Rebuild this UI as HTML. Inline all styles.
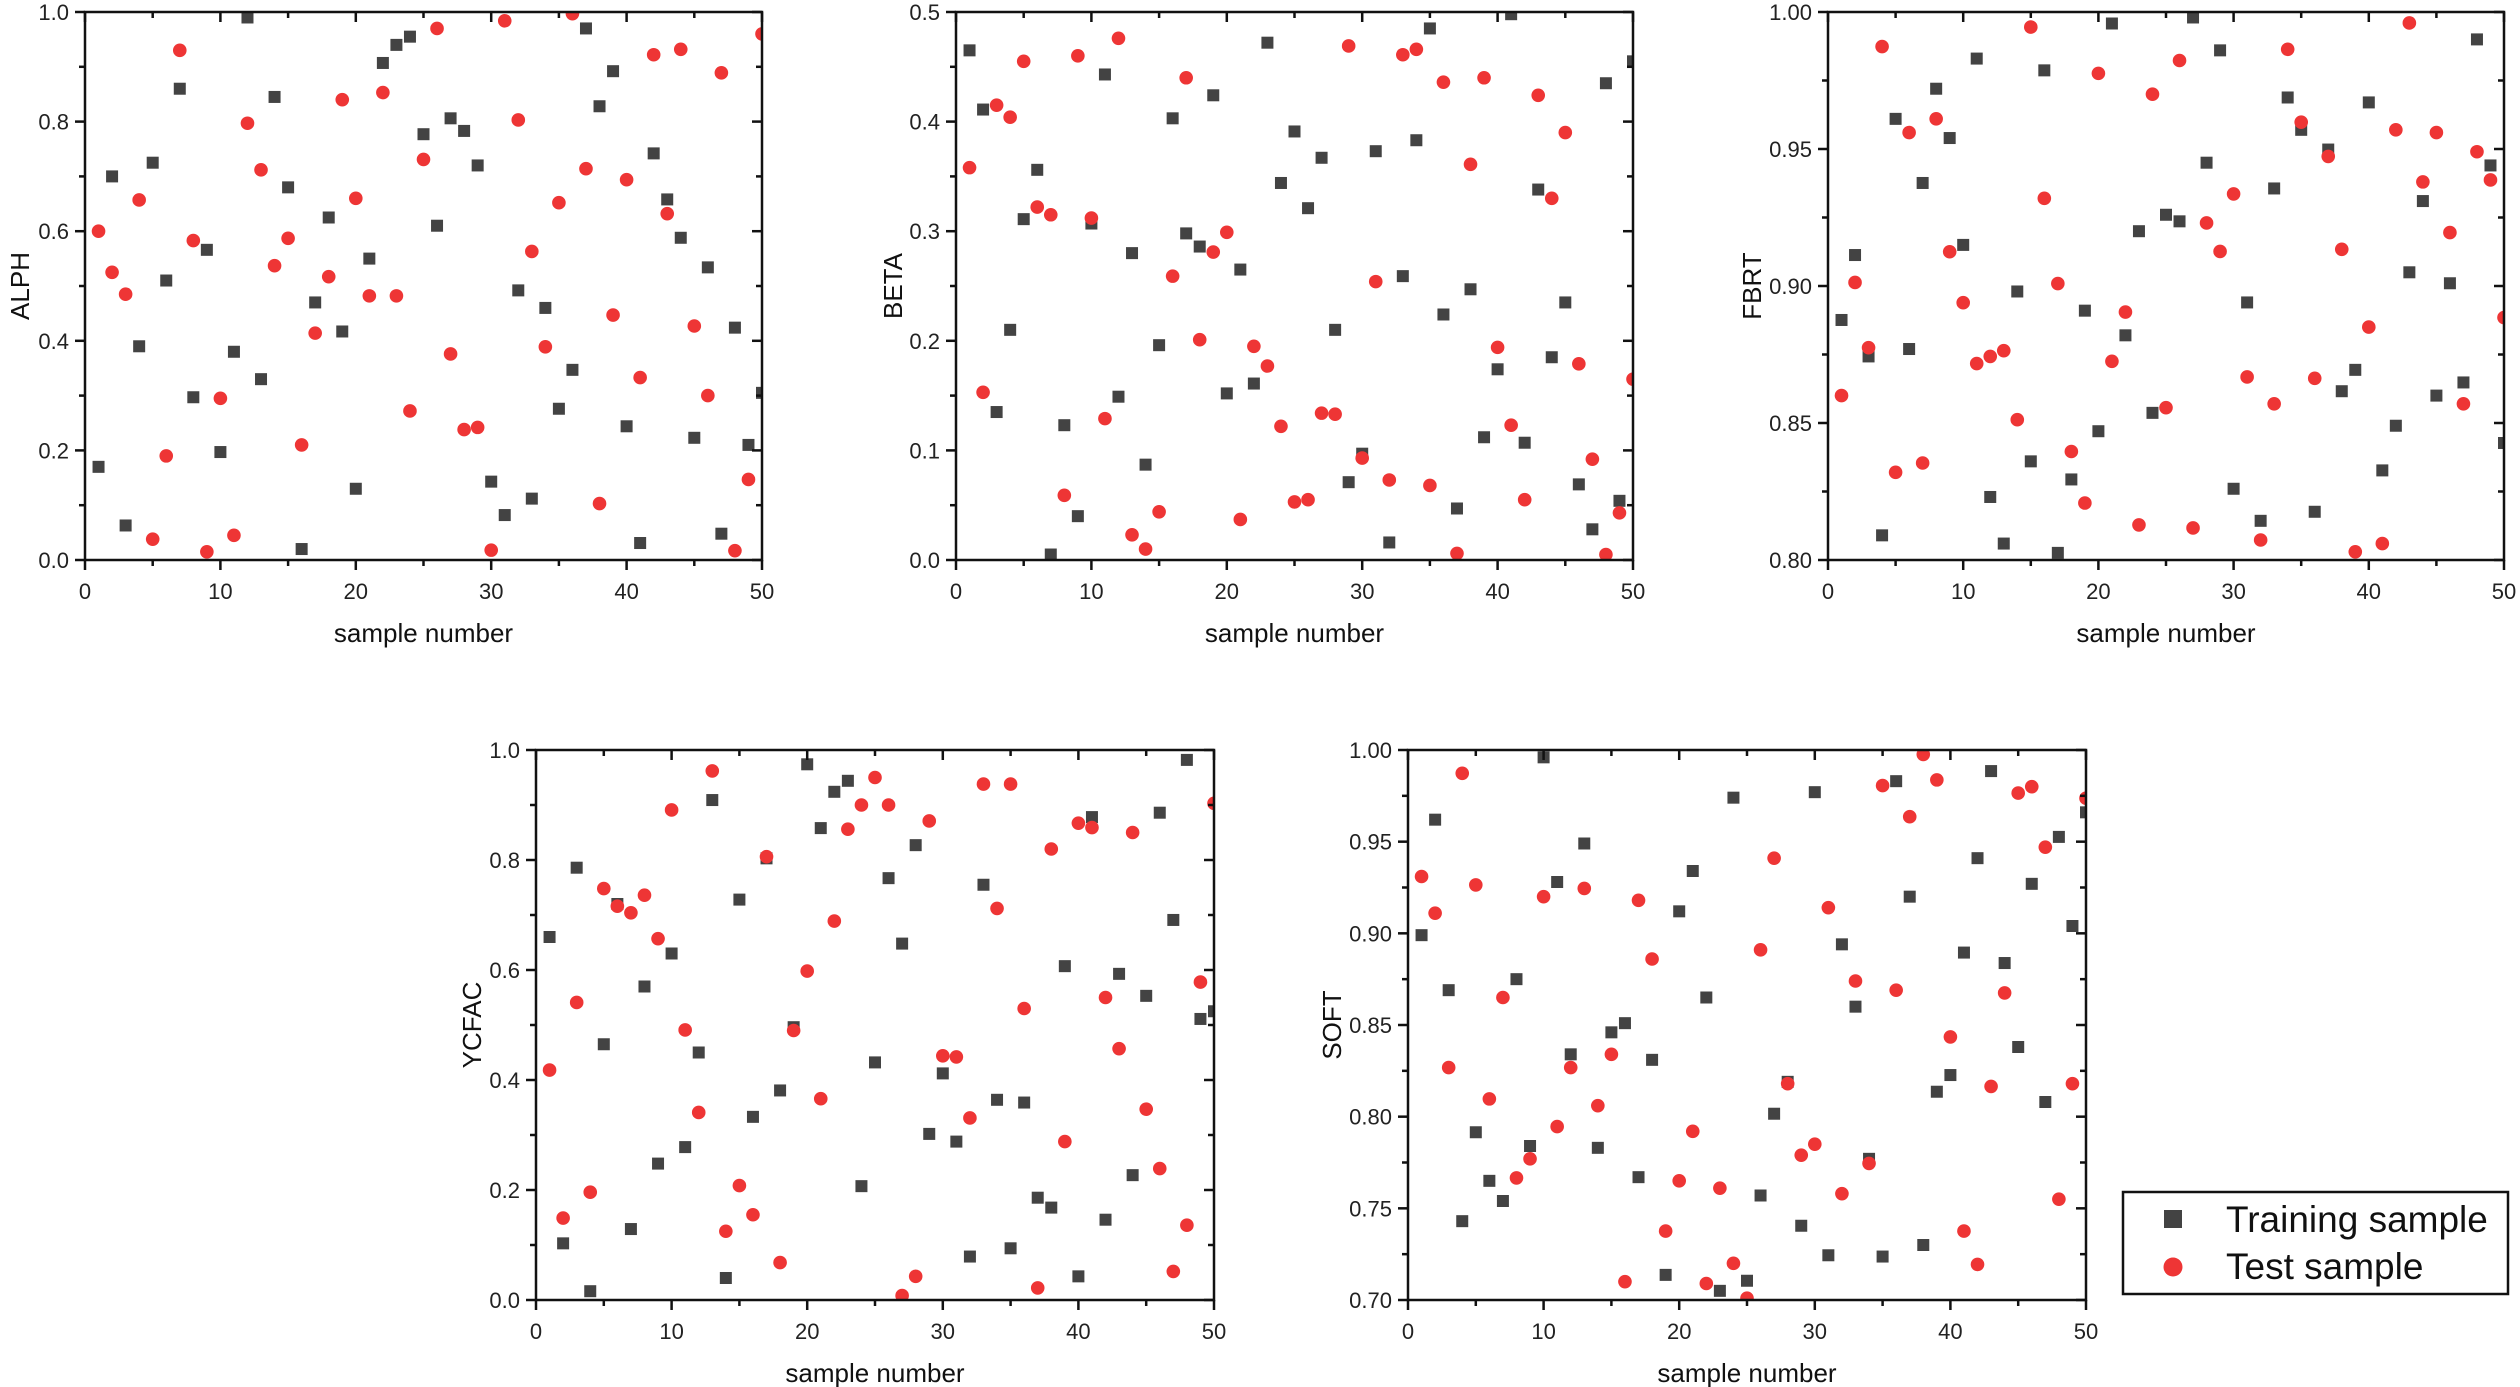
<!DOCTYPE html>
<html><head><meta charset="utf-8"><style>
html,body{margin:0;padding:0;background:#fff;}
svg{display:block;font-family:"Liberation Sans",Arial,sans-serif;}
</style></head><body>
<svg id="s" width="2520" height="1387" viewBox="0 0 2520 1387" xmlns="http://www.w3.org/2000/svg"></svg>
<script>
const P=[
{n:"ALPH",L:85,R:762,T:12,B:560,y0:0,y1:1,maj:0.2,mn:0.1,dec:1,lx:20,
tr:[.17,.70,.063,.39,.725,.51,.86,.297,.566,.197,.38,.99,.33,.845,.68,.02,.47,.625,.417,.13,.55,.907,.94,.955,.777,.61,.806,.783,.72,.143,.082,.492,.112,.46,.276,.347,.97,.828,.892,.244,.031,.742,.658,.588,.223,.534,.048,.424,.21,.305],
te:[.60,.525,.485,.657,.038,.19,.93,.583,.015,.295,.045,.797,.712,.537,.587,.21,.414,.517,.84,.66,.482,.853,.482,.272,.731,.97,.376,.238,.242,.018,.984,.803,.563,.389,.652,.997,.714,.103,.447,.694,.333,.922,.632,.932,.427,.30,.889,.017,.147,.96]},
{n:"BETA",L:956,R:1633,T:12,B:560,y0:0,y1:0.5,maj:0.1,mn:0.05,dec:1,lx:893,
tr:[.465,.411,.135,.21,.311,.356,.005,.123,.04,.307,.443,.149,.28,.087,.196,.403,.298,.286,.424,.152,.265,.161,.472,.344,.391,.321,.367,.21,.071,.097,.373,.016,.259,.383,.485,.224,.047,.247,.112,.174,.498,.107,.338,.185,.235,.069,.028,.435,.054,.455],
te:[.358,.153,.415,.404,.455,.322,.315,.059,.46,.312,.129,.476,.023,.01,.044,.259,.44,.201,.281,.299,.037,.195,.177,.122,.053,.055,.134,.133,.469,.093,.254,.073,.461,.466,.068,.436,.006,.361,.44,.194,.123,.055,.424,.33,.39,.179,.092,.005,.043,.165]},
{n:"FBRT",L:1828,R:2504,T:12,B:560,y0:0.8,y1:1,maj:0.05,mn:0.025,dec:2,lx:1752,
tr:[.8876,.9113,.8743,.809,.961,.877,.9376,.972,.954,.915,.983,.823,.806,.898,.836,.9787,.8026,.8294,.891,.847,.9958,.882,.92,.8537,.926,.9236,.998,.945,.986,.826,.894,.8143,.9356,.9688,.957,.8176,.9498,.8616,.8694,.967,.8327,.849,.905,.931,.86,.901,.8648,.99,.944,.8427],
te:[.86,.9013,.8775,.9874,.832,.956,.8354,.961,.9125,.8939,.8717,.8743,.8764,.8512,.9945,.932,.9009,.8396,.8208,.9776,.8725,.8905,.8128,.970,.8556,.9823,.8117,.923,.9126,.9336,.8668,.8073,.857,.9864,.9598,.8663,.9473,.9134,.803,.885,.806,.957,.996,.938,.956,.9195,.857,.949,.9387,.8885]},
{n:"YCFAC",L:536,R:1214,T:750,B:1300,y0:0,y1:1,maj:0.2,mn:0.1,dec:1,lx:472,
tr:[.66,.103,.786,.016,.465,.72,.129,.57,.248,.63,.278,.45,.909,.04,.728,.333,.803,.381,.496,.974,.858,.924,.944,.207,.432,.767,.648,.827,.302,.412,.288,.079,.755,.364,.094,.359,.186,.168,.607,.043,.878,.146,.593,.227,.553,.886,.691,.982,.511,.525],
te:[.418,.149,.541,.196,.748,.716,.704,.736,.657,.891,.491,.341,.962,.125,.208,.155,.806,.068,.49,.598,.366,.689,.856,.9,.95,.9,.008,.043,.871,.444,.442,.331,.938,.712,.938,.53,.022,.82,.288,.867,.859,.55,.457,.85,.347,.239,.052,.136,.578,.903]},
{n:"SOFT",L:1408,R:2086,T:750,B:1300,y0:0.7,y1:1,maj:0.05,mn:0.025,dec:2,lx:1332,
tr:[.899,.962,.869,.743,.7915,.765,.754,.875,.784,.996,.928,.834,.949,.783,.846,.851,.767,.831,.7137,.912,.934,.865,.705,.974,.7105,.757,.8016,.819,.7405,.977,.7244,.894,.86,.777,.7237,.983,.92,.73,.8136,.8227,.8895,.941,.9885,.8838,.838,.927,.808,.9526,.904,.966],
te:[.931,.911,.8268,.9873,.9264,.8097,.865,.7666,.777,.92,.7946,.8268,.9245,.806,.834,.71,.918,.886,.7376,.765,.792,.709,.761,.72,.701,.891,.941,.818,.779,.785,.914,.758,.874,.7745,.9806,.869,.9636,.9976,.9837,.8435,.7376,.7194,.8165,.8675,.9765,.98,.947,.755,.818,.9737]}
];
let h='';
P.forEach((p,i)=>{
 const X=v=>p.L+(p.R-p.L)*v/50, Y=v=>p.B-(p.B-p.T)*(v-p.y0)/(p.y1-p.y0);
 h+=`<clipPath id="c${i}"><rect x="${p.L}" y="${p.T}" width="${p.R-p.L}" height="${p.B-p.T}"/></clipPath>`;
 h+=`<g clip-path="url(#c${i})">`;
 p.tr.forEach((v,k)=>{h+=`<rect x="${X(k+1)-6}" y="${Y(v)-6}" width="12" height="12" fill="#434343"/>`;});
 p.te.forEach((v,k)=>{h+=`<circle cx="${X(k+1)}" cy="${Y(v)}" r="6.8" fill="#ee3535"/>`;});
 h+=`</g>`;
 h+=`<rect x="${p.L}" y="${p.T}" width="${p.R-p.L}" height="${p.B-p.T}" fill="none" stroke="#111" stroke-width="2.5"/>`;
 for(let t=0;t<=50;t+=5){const x=X(t),mj=t%10==0,len=mj?10:6;
  h+=`<line x1="${x}" y1="${p.B}" x2="${x}" y2="${p.B+len}" stroke="#111" stroke-width="2.5"/>`;
  h+=`<line x1="${x}" y1="${p.T}" x2="${x}" y2="${p.T+len}" stroke="#111" stroke-width="2.5"/>`;
  if(mj)h+=`<text x="${x}" y="${p.B+39}" font-size="22" text-anchor="middle" fill="#222">${t}</text>`;}
 const nt=Math.round((p.y1-p.y0)/p.mn);
 for(let j=0;j<=nt;j++){const v=p.y0+j*p.mn,y=Y(v),mj=j%2==0,len=mj?10:6;
  h+=`<line x1="${p.L-len}" y1="${y}" x2="${p.L}" y2="${y}" stroke="#111" stroke-width="2.5"/>`;
  h+=`<line x1="${p.R-len}" y1="${y}" x2="${p.R}" y2="${y}" stroke="#111" stroke-width="2.5"/>`;
  if(mj)h+=`<text x="${p.L-16}" y="${y+8}" font-size="22" text-anchor="end" fill="#222">${v.toFixed(p.dec)}</text>`;}
 h+=`<text x="${(p.L+p.R)/2}" y="${p.B+82}" font-size="26" text-anchor="middle" fill="#111">sample number</text>`;
 const cy=(p.T+p.B)/2;
 h+=`<text x="${p.lx}" y="${cy}" font-size="26" text-anchor="middle" fill="#111" transform="rotate(-90 ${p.lx} ${cy})" dy="9">${p.n}</text>`;
});
h+=`<rect x="2123" y="1192" width="385" height="102" fill="#fff" stroke="#111" stroke-width="2.5"/>`;
h+=`<rect x="2164" y="1210" width="18" height="18" fill="#434343"/>`;
h+=`<circle cx="2173" cy="1267" r="9.5" fill="#ee3535"/>`;
h+=`<text x="2226" y="1232" font-size="37" fill="#111">Training sample</text>`;
h+=`<text x="2226" y="1279" font-size="37" fill="#111">Test sample</text>`;
document.getElementById('s').innerHTML=h;
</script>
</body></html>
